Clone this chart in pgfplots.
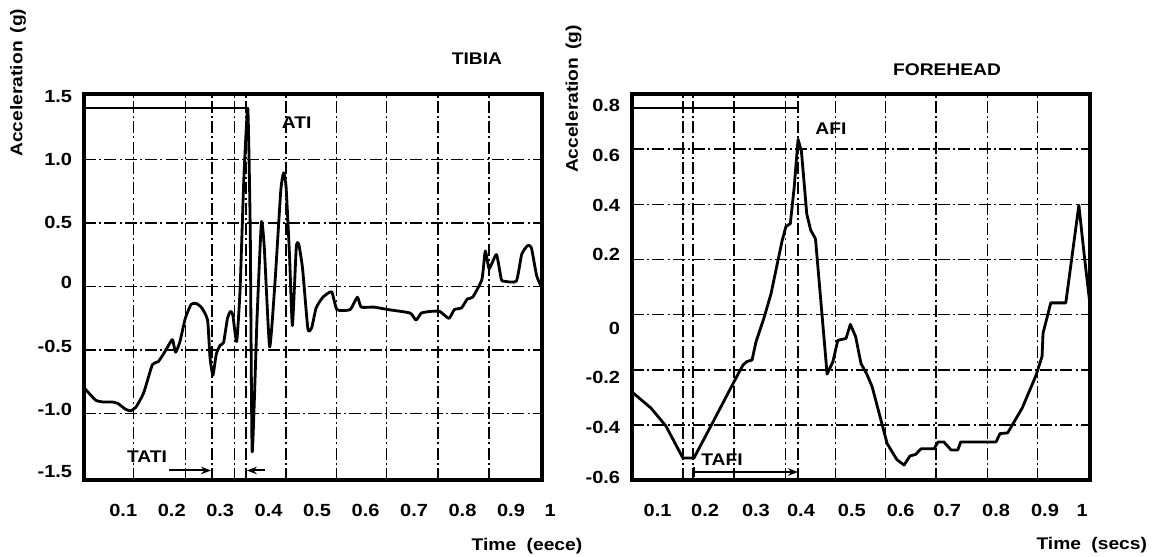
\documentclass[border=0pt]{standalone}
\usepackage{pgfplots}
\pgfplotsset{compat=1.18}
\usepackage{fontspec}
\setmainfont[FakeStretch=1.14]{Liberation Sans}
\usetikzlibrary{arrows.meta}

\pgfplotstableread{
x y
0.019 -0.796
0.043 -0.894
0.058 -0.908
0.077 -0.908
0.089 -0.92
0.104 -0.964
0.115 -0.978
0.126 -0.95
0.142 -0.838
0.160 -0.615
0.172 -0.592
0.183 -0.531
0.198 -0.433
0.202 -0.419
0.208 -0.517
0.217 -0.433
0.228 -0.251
0.240 -0.14
0.251 -0.134
0.262 -0.168
0.274 -0.265
0.279 -0.559
0.285 -0.698
0.292 -0.531
0.300 -0.461
0.307 -0.441
0.315 -0.251
0.321 -0.196
0.326 -0.223
0.334 -0.433
0.341 -0.028
0.349 0.866
0.357 1.40
0.362 0.447
0.366 -1.30
0.376 -0.251
0.385 0.503
0.391 0.307
0.402 -0.475
0.413 0.028
0.425 0.754
0.431 0.894
0.436 0.782
0.443 0.251
0.449 -0.307
0.457 0.307
0.462 0.335
0.470 0.14
0.481 -0.335
0.489 -0.321
0.498 -0.168
0.512 -0.084
0.530 -0.042
0.541 -0.182
0.568 -0.182
0.583 -0.084
0.591 -0.162
0.617 -0.162
0.647 -0.182
0.692 -0.209
0.704 -0.265
0.715 -0.209
0.734 -0.196
0.753 -0.196
0.772 -0.251
0.783 -0.182
0.798 -0.168
0.810 -0.098
0.821 -0.084
0.840 0.056
0.847 0.279
0.855 0.14
0.870 0.251
0.880 0.056
0.885 0.042
0.911 0.042
0.922 0.251
0.934 0.321
0.942 0.307
0.953 0.084
0.964 -0.014
}\tibia

\pgfplotstableread{
x y
0.047 -0.28
0.086 -0.338
0.117 -0.403
0.152 -0.519
0.164 -0.519
0.175 -0.519
0.210 -0.403
0.241 -0.299
0.264 -0.222
0.276 -0.183
0.284 -0.17
0.295 -0.164
0.303 -0.099
0.319 -0.015
0.334 0.075
0.357 0.268
0.365 0.32
0.374 0.33
0.382 0.462
0.390 0.636
0.397 0.591
0.408 0.365
0.416 0.307
0.426 0.275
0.450 -0.215
0.462 -0.17
0.472 -0.093
0.489 -0.086
0.498 -0.035
0.509 -0.08
0.520 -0.177
0.532 -0.215
0.543 -0.261
0.574 -0.467
0.594 -0.525
0.609 -0.545
0.621 -0.512
0.633 -0.506
0.644 -0.486
0.671 -0.486
0.679 -0.461
0.691 -0.461
0.706 -0.49
0.720 -0.49
0.726 -0.461
0.799 -0.461
0.807 -0.431
0.823 -0.428
0.853 -0.338
0.881 -0.222
0.894 -0.151
0.896 -0.067
0.912 0.043
0.943 0.043
0.970 0.397
0.981 0.217
0.993 0.036
}\forehead

\tikzset{griddash/.style={draw=black, line width=1pt, dash pattern=on 3mm off 0.8mm on 0.5mm off 0.8mm}}
\pgfplotsset{
  scanaxis/.style={
    scale only axis,
    width=114.5mm, height=96.5mm,
    axis line style={black, line width=2.2pt},
    major tick length=0pt,
    tick style={draw=none},
    clip=false,
    xticklabel style={anchor=center, yshift=-7.6mm, font=\fontsize{12.5}{14}\selectfont\bfseries},
    yticklabel style={anchor=east, inner sep=0pt, xshift=-2.9mm, font=\fontsize{12.5}{14}\selectfont\bfseries},
    extra x tick style={grid=major, major grid style={griddash}, xticklabel=\empty},
    extra y tick style={grid=major, major grid style={griddash}, yticklabel=\empty},
    extra x tick labels={},
    extra y tick labels={},
  },
  curve/.style={black, line width=2pt, line join=round, no marks},
}

\begin{document}
\begin{tikzpicture}[font=\fontsize{12}{14}\selectfont\bfseries]
\useasboundingbox (0,0) rectangle (288mm,139mm);

% ---------- TIBIA ----------
\begin{axis}[scanaxis,
  at={(21mm,19mm)}, anchor=south west,
  xmin=0.019, xmax=0.964, ymin=-1.522, ymax=1.514,
  xtick={0.1,0.2,0.3,0.4,0.5,0.6,0.7,0.8,0.9},
  xticklabels={0.1,0.2,0.3,0.4,0.5,0.6,0.7,0.8,0.9},
  ytick={1.492,0.997,0.503,0.028,-0.469,-0.964,-1.453},
  yticklabels={1.5,1.0,0.5,0,-0.5,-1.0,-1.5},
  extra x ticks={0.121,0.228,0.283,0.330,0.353,0.436,0.54,0.643,0.749,0.855},
  extra y ticks={1,0.5,0,-0.5,-1},
]
\addplot[curve, smooth, tension=0.3] table[x=x,y=y] {\tibia};
\addplot[black, line width=1.4pt] coordinates {(0.019,1.402) (0.353,1.402)};
\draw[black, line width=1.4pt, -{Stealth[length=2.5mm]}] (axis cs:0.194,-1.447) -- (axis cs:0.281,-1.447);
\draw[black, line width=1.4pt, -{Stealth[length=2.5mm]}] (axis cs:0.392,-1.447) -- (axis cs:0.355,-1.447);
\node at (axis cs:0.149,-1.341) {TATI};
\node at (axis cs:0.458,1.285) {ATI};
\node[font=\fontsize{12.5}{14}\selectfont\bfseries] at (axis cs:0.981,-1.522) [yshift=-7.6mm] {1};
\end{axis}

% ---------- FOREHEAD ----------
\begin{axis}[scanaxis,
  at={(158mm,19mm)}, anchor=south west,
  xmin=0.047, xmax=0.993, ymin=-0.599, ymax=0.8,
  xtick={0.1,0.198,0.303,0.396,0.501,0.602,0.698,0.799,0.9,0.977},
  xticklabels={0.1,0.2,0.3,0.4,0.5,0.6,0.7,0.8,0.9,1},
  ytick={0.759,0.578,0.397,0.217,-0.048,-0.228,-0.409,-0.590},
  yticklabels={0.8,0.6,0.4,0.2,0,-0.2,-0.4,-0.6},
  extra x ticks={0.152,0.173,0.258,0.364,0.39,0.467,0.571,0.675,0.781,0.884},
  extra y ticks={0.6,0.4,0.2,0,-0.2,-0.4},
]
\addplot[curve] table[x=x,y=y] {\forehead};
\addplot[black, line width=1.4pt] coordinates {(0.047,0.748) (0.39,0.748)};
\draw[black, line width=1.4pt, {Bar[width=2.5mm]}-{Stealth[length=2.5mm]}] (axis cs:0.173,-0.570) -- (axis cs:0.39,-0.570);
\node at (axis cs:0.233,-0.525) {TAFI};
\node at (axis cs:0.458,0.675) {AFI};
\end{axis}

% titles and axis labels
\node at (119.25mm,124.4mm) {TIBIA};
\node at (236.75mm,121.55mm) {FOREHEAD};
\node[rotate=90] at (4.5mm,118.35mm) {Acceleration\hspace{2mm}(g)};
\node[rotate=90] at (143.4mm,114.25mm) {Acceleration\hspace{2mm}(g)};
\node at (131.75mm,2.4mm) {Time\hspace{2.6mm}(eece)};
\node[anchor=east] at (288mm,2.6mm) {Time\hspace{2.6mm}(secs)};
\end{tikzpicture}
\end{document}
